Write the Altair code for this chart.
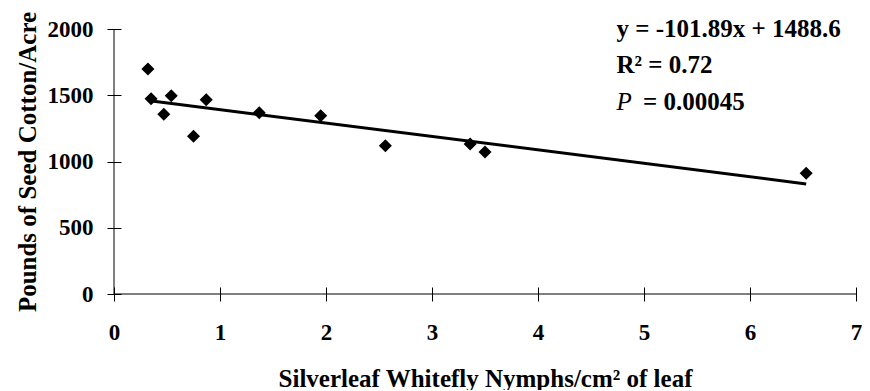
import altair as alt
import pandas as pd

# Data
nymphs = [0.32, 0.35, 0.47, 0.54, 0.75, 0.87, 1.37, 1.95, 2.56, 3.36, 3.50, 6.53]
seed_cotton = [1698, 1474, 1356, 1497, 1190, 1466, 1368, 1346, 1119, 1132, 1072, 911]

x_ticks = [0, 1, 2, 3, 4, 5, 6, 7]
y_ticks = [0, 500, 1000, 1500, 2000]
x_range = [0, 7]
y_range = [0, 2000]

eq_text = ["y = -101.89x + 1488.6", "R² = 0.72"]
eq_x = [4.74, 4.74]
eq_y = [1940, 1668]
p_label = ["P"]
p_value = ["= 0.00045"]
p_x = [4.74]
p_val_x = [4.99]
p_y = [1389]

FONT = "Liberation Serif"

df = pd.DataFrame({"x": nymphs, "y": seed_cotton})
eq_df = pd.DataFrame({"x": eq_x, "y": eq_y, "t": eq_text})
p_df = pd.DataFrame({"x": p_x, "y": p_y, "t": p_label})
pv_df = pd.DataFrame({"x": p_val_x, "y": p_y, "t": p_value})

xscale = alt.Scale(domain=x_range, nice=False, zero=False)
yscale = alt.Scale(domain=y_range, nice=False, zero=False)

W, H = 742, 265

x_axis = alt.Axis(
    offset=-7, values=x_ticks, format="d", labelPadding=20,
    title="Silverleaf Whitefly Nymphs/cm² of leaf",
    titleX=W / 2, titleY=99,
)
y_axis = alt.Axis(
    offset=-7, values=y_ticks, format="d", labelPadding=14,
    title="Pounds of Seed Cotton/Acre",
    titleX=-86, titleY=H / 2, titleAngle=270,
)

points = alt.Chart(df).mark_point(
    shape="diamond", filled=True, color="black", size=170, opacity=1
).encode(
    x=alt.X("x:Q", scale=xscale, axis=x_axis),
    y=alt.Y("y:Q", scale=yscale, axis=y_axis),
)

trend = alt.Chart(df).transform_regression("x", "y").mark_line(
    color="black", strokeWidth=3
).encode(
    x=alt.X("x:Q", scale=xscale),
    y=alt.Y("y:Q", scale=yscale),
)

x_domain = alt.Chart().mark_rule(color="black", strokeWidth=1).encode(
    x=alt.datum(x_range[0], scale=xscale),
    x2=alt.datum(x_range[1]),
    y=alt.datum(y_range[0], scale=yscale),
)
y_domain = alt.Chart().mark_rule(color="black", strokeWidth=1).encode(
    y=alt.datum(y_range[0], scale=yscale),
    y2=alt.datum(y_range[1]),
    x=alt.datum(x_range[0], scale=xscale),
)

def text_layer(data, **style):
    return alt.Chart(data).mark_text(
        font=FONT, fontSize=25, align="left", baseline="alphabetic",
        color="black", **style
    ).encode(
        x=alt.X("x:Q", scale=xscale),
        y=alt.Y("y:Q", scale=yscale),
        text="t:N",
    )

eq = text_layer(eq_df, fontWeight="bold")
p_txt = text_layer(p_df, fontStyle="italic", fontWeight="normal")
pv_txt = text_layer(pv_df, fontWeight="bold")

chart = alt.layer(points, trend, x_domain, y_domain, eq, p_txt, pv_txt).properties(
    width=W, height=H,
    autosize=alt.AutoSizeParams(type="none"),
    padding={"left": 106, "top": 21, "right": 6, "bottom": 96},
    background="white",
).configure_view(stroke=None).configure_axis(
    grid=False, domain=False,
    tickSize=14, tickColor="black", tickWidth=1,
    labelFont=FONT, labelFontSize=23, labelFontWeight="bold",
    labelColor="black", labelFlush=False, labelOverlap=False,
    titleFont=FONT, titleFontSize=25, titleFontWeight="bold", titleColor="black",
    titleBaseline="alphabetic", titleAlign="center",
)

chart.save("out.html", embed_options={"renderer": "svg", "actions": False})
